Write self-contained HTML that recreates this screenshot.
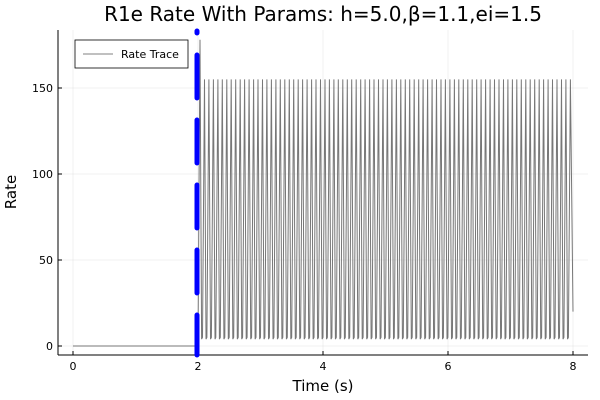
<!DOCTYPE html>
<html><head><meta charset="utf-8"><style>
body{margin:0;background:#fff}
svg{display:block;font-family:"DejaVu Sans","Liberation Sans",sans-serif}
</style></head><body>
<svg id="chart" width="600" height="400">
<rect x="0" y="0" width="600" height="400" fill="#fff"/>
<g id="grid"></g>
<g id="axes"></g>
<polyline id="trace" fill="none" stroke="#777" stroke-width="1"/>
<line id="vline" stroke="#0000ff" stroke-width="5" stroke-dasharray="43 22" stroke-dashoffset="41" stroke-linecap="round"/>
<text x="323" y="21" font-size="20" text-anchor="middle" fill="#000">R1e Rate With Params: h=5.0,β=1.1,ei=1.5</text>
<text x="323" y="391" font-size="15" text-anchor="middle">Time (s)</text>
<text x="16" y="192" font-size="15" text-anchor="middle" transform="rotate(-90 16 192)">Rate</text>
<g>
<rect x="75" y="40" width="113" height="28" fill="#fff" stroke="#000" stroke-width="0.8"/>
<line x1="83" y1="54" x2="113" y2="54" stroke="#808080" stroke-width="1"/>
<text x="121" y="58" font-size="11">Rate Trace</text>
</g>
</svg>
<script>
const xTicks=[0,2,4,6,8];
const yTicks=[0,50,100,150];
const onsetTime=2.0;
const period=0.0714;
const troughValue=4;
const endValue=20;
const peaks=[178].concat(Array(83).fill(155));
const X=t=>73+t*62.5;
const Y=v=>346-v*1.72;
const L=58,R=588,T=30,B=355;
const ns="http://www.w3.org/2000/svg";
const g=document.getElementById('grid'),a=document.getElementById('axes');
function mk(p,tag,at){const e=document.createElementNS(ns,tag);for(const k in at)e.setAttribute(k,at[k]);p.appendChild(e);return e;}
xTicks.forEach(t=>{
 const gl=mk(g,'line',{x1:X(t),x2:X(t),y1:T,y2:B,stroke:'#000','stroke-opacity':0.1,'stroke-width':0.5});
 
 
 mk(a,'line',{x1:X(t),x2:X(t),y1:B,y2:B-4,stroke:'#000'});
 const tx=mk(a,'text',{x:X(t),y:B+15,'font-size':11,'text-anchor':'middle'});tx.textContent=t;
 
 
});
yTicks.forEach(v=>{
 const gl=mk(g,'line',{x1:L,x2:R,y1:Y(v),y2:Y(v),stroke:'#000','stroke-opacity':0.1,'stroke-width':0.5});
 
 
 mk(a,'line',{x1:L,x2:L+4,y1:Y(v),y2:Y(v),stroke:'#000'});
 const tx=mk(a,'text',{x:L-5,y:Y(v)+4,'font-size':11,'text-anchor':'end'});tx.textContent=v;
 
 
});
mk(a,'line',{x1:L,x2:R,y1:B,y2:B,stroke:'#000'});
mk(a,'line',{x1:L,x2:L,y1:T,y2:B,stroke:'#000'});
let pts=[[0,0],[onsetTime,0]];
peaks.forEach((p,i)=>{
 const t0=onsetTime+i*period;
 pts.push([t0+period*0.45,p]);
 pts.push([t0+period*0.8,troughValue]);
 pts.push([t0+period,troughValue+1]);
});
pts=pts.filter(q=>q[0]<=7.98);
pts.push([8.0,endValue]);
document.getElementById('trace').setAttribute('points',pts.map(q=>X(q[0]).toFixed(1)+','+Y(q[1]).toFixed(1)).join(' '));
const vl=document.getElementById('vline');
vl.setAttribute('x1',X(onsetTime)-1);vl.setAttribute('x2',X(onsetTime)-1);
vl.setAttribute('y1',31);vl.setAttribute('y2',B);
</script>
</body></html>
